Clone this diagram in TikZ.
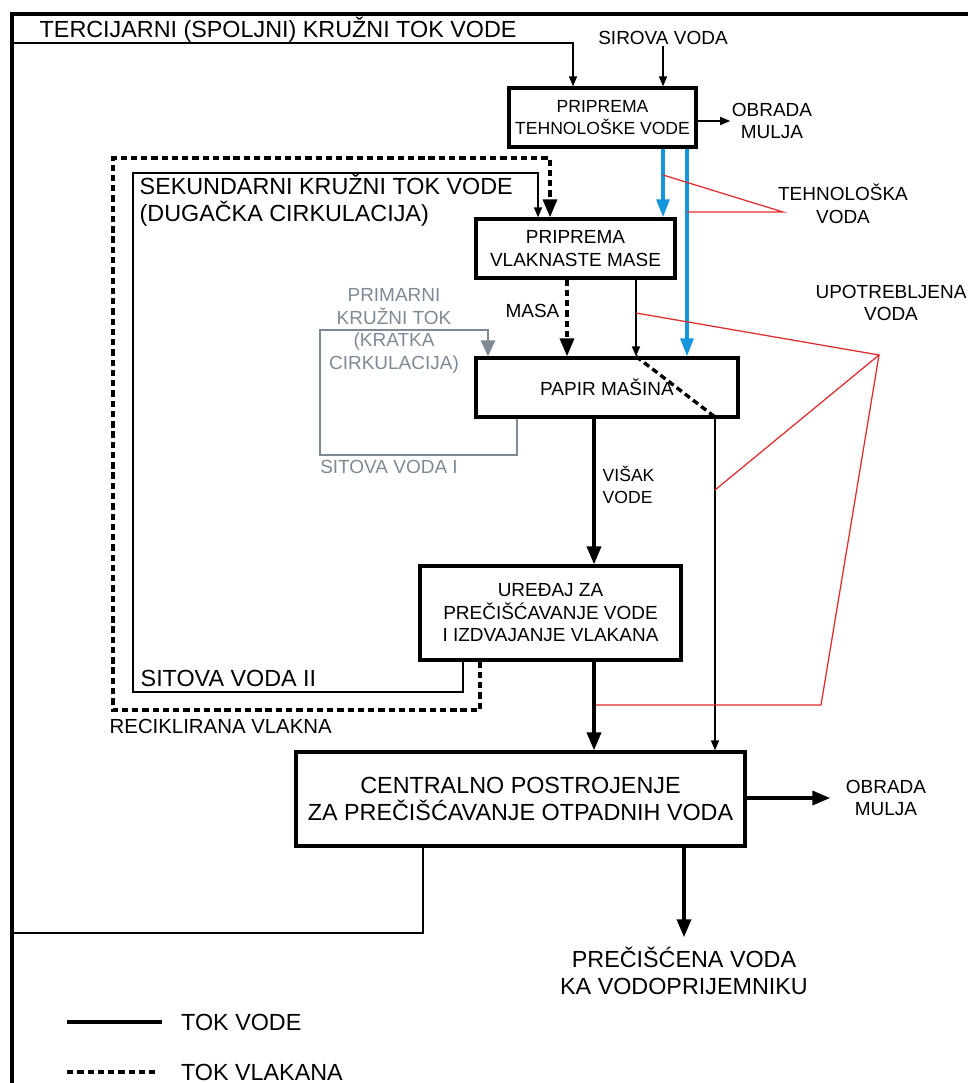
\documentclass[tikz,border=0pt]{standalone}
\usepackage{fontspec}
\setmainfont{Liberation Sans}
\usetikzlibrary{arrows.meta,positioning}
\definecolor{techblue}{RGB}{20,150,220}
\definecolor{usedred}{RGB}{225,45,45}
\definecolor{loopgray}{RGB}{125,138,150}

\begin{document}
\begin{tikzpicture}[x=0.25mm, y=-0.25mm,
	every node/.style = {align=center, inner sep=1pt, font=\fontsize{13.5}{16}\selectfont},
	Box/.style = {draw, line width=2.3pt, inner sep=0pt},
	Big/.style = {font=\fontsize{16.6}{19.5}\selectfont},
	Line/.style = {-{Triangle[length=2.5mm,width=2mm]}, line width=1.1pt},
	Thick/.style = {-{Triangle[length=4.5mm,width=3.5mm]}, line width=2.6pt},
	Fibre/.style = {line width=2.4pt, dash pattern=on 4.5pt off 2.8pt},
	Blue/.style = {techblue, line width=2.4pt, -{Triangle[length=4.5mm,width=3.2mm]}},
	Red/.style = {usedred, line width=0.9pt},
	Gray/.style = {loopgray, line width=2pt, -{Triangle[length=4mm,width=3.5mm]}}
]
\useasboundingbox (0,0) rectangle (967,1083);
\draw[line width=3.2pt] (12,1095) -- (12,14) -- (980,14);

\node[Box, minimum width=46.75mm, minimum height=14.75mm,
	font=\fontsize{12.5}{15.5}\selectfont] (tech) at (602.5,117.5) {PRIPREMA\\TEHNOLOŠKE VODE};
\node[Box, minimum width=49.75mm, minimum height=14.75mm] (masa) at (575.5,248.5) {PRIPREMA\\VLAKNASTE MASE};
\node[Box, minimum width=65.5mm, minimum height=14.75mm] (papir) at (607,387.5) {PAPIR MAŠINA};
\node[Box, minimum width=65.25mm, minimum height=23.5mm] (uredjaj) at (550.5,613) {UREĐAJ ZA\\PREČIŠĆAVANJE VODE\\I IZDVAJANJE VLAKANA};
\node[Box, Big, minimum width=112.25mm, minimum height=23.5mm] (central) at (520.5,799) {CENTRALNO POSTROJENJE\\ZA PREČIŠĆAVANJE OTPADNIH VODA};

\node[Big, anchor=west] (tercijarni) at (38,30) {TERCIJARNI (SPOLJNI) KRUŽNI TOK VODE};
\node (sirova) at (663,38) {SIROVA VODA};
\node (obrada1) at (772,121) {OBRADA\\MULJA};
\node (tehvoda) at (843,204) {TEHNOLOŠKA\\VODA};
\node (upotreb) at (891,303) {UPOTREBLJENA\\VODA};
\node[Big, anchor=west, align=left] (sekundarni) at (138,200) {SEKUNDARNI KRUŽNI TOK VODE\\(DUGAČKA CIRKULACIJA)};
\node[loopgray] (primarni) at (394,331) {PRIMARNI\\KRUŽNI TOK\\(KRATKA\\CIRKULACIJA)};
\node[loopgray] (sitova1) at (389,467) {SITOVA VODA I};
\node[anchor=west, align=left, font=\fontsize{12.5}{16}\selectfont] (visak) at (601,485) {VIŠAK\\VODE};
\node[Big, anchor=west] (sitova2) at (139,678) {SITOVA VODA II};
\node[anchor=west, font=\fontsize{14.5}{17}\selectfont] (reciklirana) at (108,726) {RECIKLIRANA VLAKNA};
\node (obrada2) at (886,798) {OBRADA\\MULJA};
\node[Big] (precisc) at (684,971) {PREČIŠĆENA VODA\\KA VODOPRIJEMNIKU};

\coordinate (t1) at (423,933);
\coordinate (t2) at (12,933);
\coordinate (t3) at (12,43);
\coordinate (t4) at (573,43);
\draw[Line] (central.south -| t1) -- (t1) -- (t2) -- (t3) -- (t4) -- (t4 |- tech.north);
\draw[Line] (sirova.south) -- (sirova |- tech.north);
\draw[Line] (tech.east |- obrada1) -- (obrada1.west);

\coordinate (b1) at (663,175);
\coordinate (b2) at (687,212);
\coordinate (r1) at (783,212);
\draw[Blue] (tech.south -| b1) -- (b1 |- masa.north);
\draw[Blue] (tech.south -| b2) -- (b2 |- papir.north);
\draw[Red] (b1) -- (r1) -- (b2);

\coordinate (s1) at (463,692);
\coordinate (s2) at (133,692);
\coordinate (s3) at (133,173);
\coordinate (s4) at (538,173);
\draw[Line] (uredjaj.south -| s1) -- (s1) -- (s2) -- (s3) -- (s4) -- (s4 |- masa.north);
\coordinate (f1) at (480,710);
\coordinate (f2) at (113,710);
\coordinate (f3) at (113,158);
\coordinate (f4) at (550,158);
\draw[Fibre, -{Triangle[length=4.5mm,width=3.5mm]}] (uredjaj.south -| f1) -- (f1) -- (f2) -- (f3) -- (f4) -- (f4 |- masa.north);

\coordinate (m1) at (567,311);
\node[left=1.5mm of m1] (masalbl) {MASA};
\draw[Fibre, -{Triangle[length=4.5mm,width=3.5mm]}] (masa.south -| m1) -- (m1 |- papir.north);
\coordinate (u0) at (636,313);
\coordinate (u1) at (879,355);
\coordinate (u2) at (715,490);
\coordinate (u3) at (821,705);
\coordinate (u4) at (594,705);
\draw[Line] (masa.south -| u0) -- (u0 |- papir.north);
\coordinate (d1) at (715,417);
\draw[Fibre] (u0 |- papir.north) -- (d1);
\draw[Line] (d1) -- (d1 |- central.north);
\draw[Red] (u0) -- (u1) -- (u2);
\draw[Red] (u1) -- (u3) -- (u4);

\coordinate (g1) at (517,455);
\coordinate (g2) at (320,455);
\coordinate (g3) at (320,330);
\coordinate (g4) at (488,330);
\draw[Gray] (papir.south -| g1) -- (g1) -- (g2) -- (g3) -- (g4) -- (g4 |- papir.north);

\draw[Thick] (papir.south -| u4) -- (u4 |- uredjaj.north);
\draw[Thick] (uredjaj.south -| u4) -- (u4 |- central.north);
\draw[Thick, shorten >=3.5mm] (central.east |- obrada2) -- (obrada2.west);
\draw[Thick, shorten >=2mm] (central.south -| precisc) -- (precisc.north);

\coordinate (leg1) at (67,1022);
\coordinate[right=23.75mm of leg1] (leg1e);
\coordinate (leg2) at (67,1072);
\coordinate[right=22.75mm of leg2] (leg2e);
\draw[line width=2.6pt] (leg1) -- (leg1e) node[Big, right=4mm] (tokvode) {TOK VODE};
\draw[Fibre] (leg2) -- (leg2e) node[Big, right=5mm] (tokvlakana) {TOK VLAKANA};
\end{tikzpicture}
\end{document}
